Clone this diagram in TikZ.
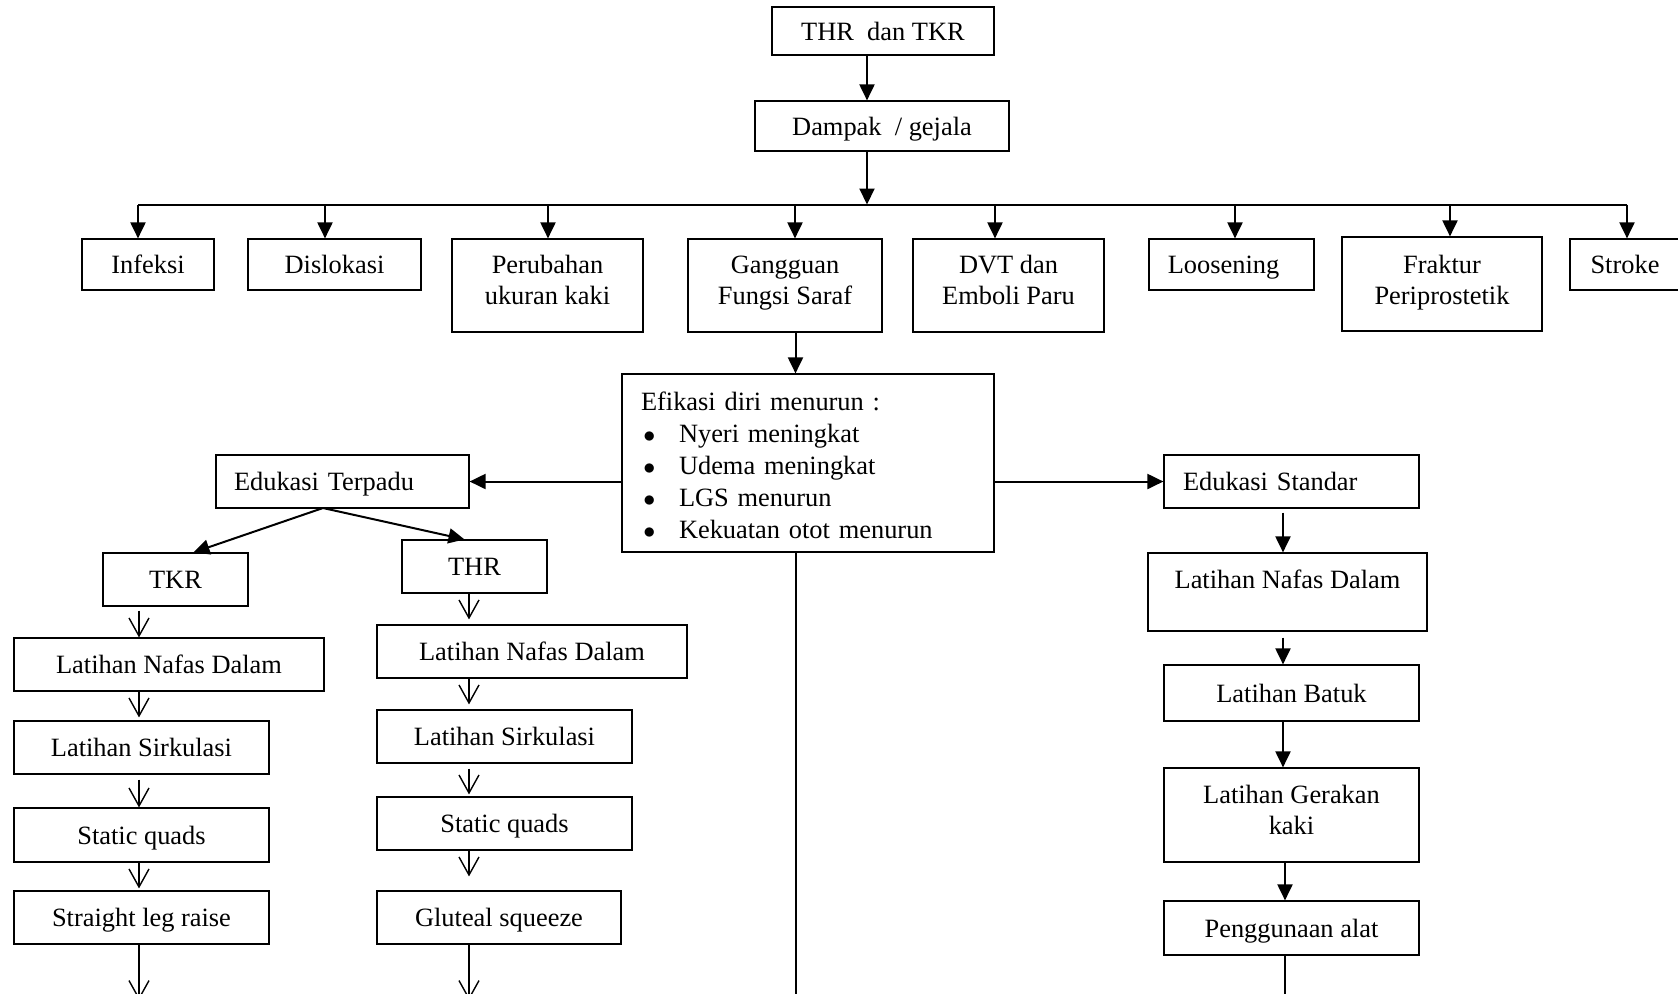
\documentclass[tikz,border=0pt]{standalone}
\usepackage{fontspec}
\setmainfont{Liberation Serif}
\usetikzlibrary{arrows.meta,fit,calc}
\begin{document}
\begin{tikzpicture}[x=0.5pt,y=-0.5pt,
  box/.style={draw, line width=0.6pt, inner sep=0pt},
  txt/.style={inner sep=0pt, font=\fontsize{13.2}{15.5}\selectfont, text height=0.68em, text depth=0.18em, yshift=-2pt},
  mtxt/.style={inner sep=0pt, font=\fontsize{13.2}{15.5}\selectfont, align=center},
  conn/.style={line width=1pt, -{Triangle[length=8pt,width=7.5pt]}},
  plain/.style={line width=1pt},
  barb/.style={line width=0.7pt, -{Straight Barb[length=9pt,width=10pt]}},
]
\useasboundingbox (0,0) rectangle (1678,993);
\clip (0,0) rectangle (1678,993);
\fill[white] (0,0) rectangle (1678,993);

% ---- top
\node[box, fit={(772,7)(994,55)}] (top) {};
\node[txt] (topt) at (top) {THR\ \ dan TKR};
\node[box, fit={(755,101)(1009,151)}] (dampak) {};
\node[txt] (dampakt) at (dampak) {Dampak\ \ / gejala};

% ---- row of effects
\node[box, fit={(82,239)(214,290)}] (infeksi) {};
\node[txt] (infeksit) at (infeksi) {Infeksi};
\node[box, fit={(248,239)(421,290)}] (dislokasi) {};
\node[txt] (dislokasit) at (dislokasi) {Dislokasi};
\node[box, fit={(452,239)(643,332)}] (perubahan) {};
\node[mtxt] (perubahant) at ($(perubahan.center)+(0,-6)$) {Perubahan\\ukuran kaki};
\node[box, fit={(688,239)(882,332)}] (gangguan) {};
\node[mtxt] (gangguant) at ($(gangguan.center)+(0,-2)$) {Gangguan\\Fungsi Saraf};
\node[box, fit={(913,239)(1104,332)}] (dvt) {};
\node[mtxt] (dvtt) at ($(dvt.center)+(0,-6)$) {DVT dan\\Emboli Paru};
\node[box, fit={(1149,239)(1314,290)}] (loosening) {};
\node[txt] (looseningt) at ($(loosening.center)+(-8,0)$) {Loosening};
\node[box, fit={(1342,237)(1542,331)}] (fraktur) {};
\node[mtxt] (frakturt) at ($(fraktur.center)+(0,-1.5)$) {Fraktur\\Periprostetik};
\node[box, fit={(1570,239)(1682,290)}] (stroke) {};
\node[txt] (stroket) at (1625,264.5) {Stroke};

% ---- efikasi
\node[box, fit={(622,374)(994,552)}] (efikasi) {};
\node[inner sep=0pt, font=\fontsize{13.2}{16}\selectfont, align=left, text width=167pt]
  (efikasit) at ($(efikasi.center)+(0,2)$)
  {Efikasi diri menurun :\\
   \hspace*{1.2pt}\makebox[17.8pt][l]{$\bullet$}Nyeri meningkat\\
   \hspace*{1.2pt}\makebox[17.8pt][l]{$\bullet$}Udema meningkat\\
   \hspace*{1.2pt}\makebox[17.8pt][l]{$\bullet$}LGS menurun\\
   \hspace*{1.2pt}\makebox[17.8pt][l]{$\bullet$}Kekuatan otot menurun};

\node[box, fit={(216,455)(469,508)}] (terpadu) {};
\node[txt, text width=108.5pt, align=left] (terpadut) at (terpadu) {Edukasi Terpadu};
\node[box, fit={(1164,455)(1419,508)}] (standar) {};
\node[txt, text width=108.5pt, align=left] (standart) at (standar) {Edukasi Standar};

% ---- TKR column
\node[box, fit={(103,553)(248,606)}] (tkr) {};
\node[txt] (tkrt) at (tkr) {TKR};
\node[box, fit={(14,638)(324,691)}] (lndL) {};
\node[txt] (lndLt) at (lndL) {Latihan Nafas Dalam};
\node[box, fit={(14,721)(269,774)}] (sirkL) {};
\node[txt] (sirkLt) at (sirkL) {Latihan Sirkulasi};
\node[box, fit={(14,808)(269,862)}] (staticL) {};
\node[txt] (staticLt) at (staticL) {Static quads};
\node[box, fit={(14,891)(269,944)}] (slr) {};
\node[txt] (slrt) at (slr) {Straight leg raise};

% ---- THR column
\node[box, fit={(402,540)(547,593)}] (thr) {};
\node[txt] (thrt) at (thr) {THR};
\node[box, fit={(377,625)(687,678)}] (lndM) {};
\node[txt] (lndMt) at (lndM) {Latihan Nafas Dalam};
\node[box, fit={(377,710)(632,763)}] (sirkM) {};
\node[txt] (sirkMt) at (sirkM) {Latihan Sirkulasi};
\node[box, fit={(377,797)(632,850)}] (staticM) {};
\node[txt] (staticMt) at (staticM) {Static quads};
\node[box, fit={(377,891)(621,944)}] (glut) {};
\node[txt] (glutt) at (glut) {Gluteal squeeze};

% ---- right column
\node[box, fit={(1148,553)(1427,631)}] (lndR) {};
\node[txt] (lndRt) at ($(lndR.center)+(0,-13)$) {Latihan Nafas Dalam};
\node[box, fit={(1164,665)(1419,721)}] (batuk) {};
\node[txt] (batukt) at (batuk) {Latihan Batuk};
\node[box, fit={(1164,768)(1419,862)}] (gerak) {};
\node[mtxt] (gerakt) at ($(gerak.center)+(0,-5.5)$) {Latihan Gerakan\\kaki};
\node[box, fit={(1164,901)(1419,955)}] (alat) {};
\node[txt] (alatt) at (alat) {Penggunaan alat};

% ---- helper coordinates
\coordinate (c1) at (867,0);
\coordinate (busL) at (138,204.5);
\coordinate (busR) at (1627,204.5);
\coordinate (d2) at (325,204.5);
\coordinate (d3) at (548,204.5);
\coordinate (d4) at (795,204.5);
\coordinate (d5) at (995,204.5);
\coordinate (d6) at (1235,204.5);
\coordinate (d7) at (1450,204.5);
\coordinate (g) at (795.5,0);
\coordinate (bot) at (0,1000);
\coordinate (colL) at (139,0);
\coordinate (colM) at (469,0);
\coordinate (colR) at (1283,0);
\coordinate (colR2) at (1285,0);
\coordinate (ts) at (323,508);

% ---- connectors
\draw[conn] (top.south -| c1) -- (dampak.north -| c1);
\draw[conn] (dampak.south -| c1) -- (c1 |- busL);
\draw[plain] (busL) -- (busR);
\draw[conn] (busL) -- (infeksi.north -| busL);
\draw[conn] (d2) -- (dislokasi.north -| d2);
\draw[conn] (d3) -- (perubahan.north -| d3);
\draw[conn] (d4) -- (gangguan.north -| d4);
\draw[conn] (d5) -- (dvt.north -| d5);
\draw[conn] (d6) -- (loosening.north -| d6);
\draw[conn] (d7) -- (fraktur.north -| d7);
\draw[conn] (busR) -- (stroke.north -| busR);

\draw[conn] (gangguan.south -| g) -- (efikasi.north -| g);
\draw[conn] (efikasi.west |- terpadu.east) -- (terpadu.east);
\draw[conn] (efikasi.east |- standar.west) -- (standar.west);
\draw[plain] (efikasi.south -| g) -- (g |- bot);

\draw[conn] (ts) -- ($(tkr.north)+(18,0)$);
\draw[conn] (ts) -- ($(thr.north)+(-10,0)$);

% TKR column
\draw[barb] ([yshift=-2pt]tkr.south -| colL) -- (lndL.north -| colL);
\draw[barb, shorten >=1.5pt] (lndL.south -| colL) -- (sirkL.north -| colL);
\draw[barb] ([yshift=-2.5pt]sirkL.south -| colL) -- (staticL.north -| colL);
\draw[barb, shorten >=1pt] (staticL.south -| colL) -- (slr.north -| colL);
\draw[barb] (slr.south -| colL) -- (colL |- bot);

% THR column
\draw[barb, shorten >=2.5pt] (thr.south -| colM) -- (lndM.north -| colM);
\draw[barb, shorten >=2.5pt] (lndM.south -| colM) -- (sirkM.north -| colM);
\draw[barb, shorten >=1pt] ([yshift=-2.5pt]sirkM.south -| colM) -- (staticM.north -| colM);
\draw[barb, shorten >=7pt] (staticM.south -| colM) -- (glut.north -| colM);
\draw[barb] (glut.south -| colM) -- (colM |- bot);

% right column
\draw[conn] ([yshift=-2pt]standar.south -| colR) -- (lndR.north -| colR);
\draw[conn] ([yshift=-3pt]lndR.south -| colR) -- (batuk.north -| colR);
\draw[conn] (batuk.south -| colR) -- (gerak.north -| colR);
\draw[conn] (gerak.south -| colR2) -- (alat.north -| colR2);
\draw[plain] (alat.south -| colR2) -- (colR2 |- bot);
\end{tikzpicture}
\end{document}
